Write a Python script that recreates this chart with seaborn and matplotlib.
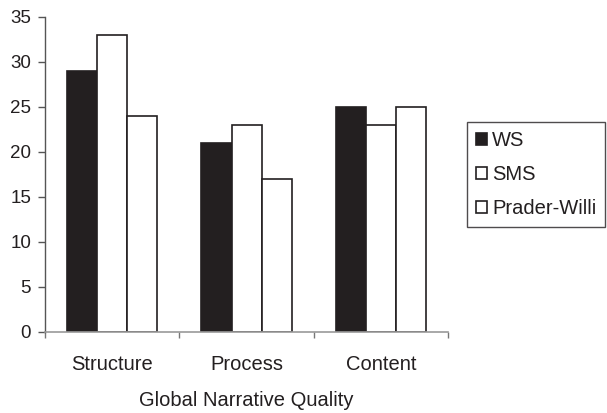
import matplotlib
matplotlib.use("Agg")
import matplotlib.pyplot as plt
import seaborn as sns
import pandas as pd
from matplotlib.ticker import FixedLocator

categories = ["Structure", "Process", "Content"]
groups = ["WS", "SMS", "Prader-Willi"]
ws_values = [29, 21, 25]
sms_values = [33, 23, 23]
pw_values = [24, 17, 25]
yticks = [0, 5, 10, 15, 20, 25, 30, 35]

rows = []
for g, vals in zip(groups, [ws_values, sms_values, pw_values]):
    for c, v in zip(categories, vals):
        rows.append({"category": c, "group": g, "value": v})
df = pd.DataFrame(rows)

sns.set_style("white")
plt.rcParams['font.family'] = ['Liberation Sans', 'DejaVu Sans']

FS = 14.5
FSY = 13.5
fig = plt.figure(figsize=(6.07, 4.13), dpi=100)
ax = fig.add_axes([0.0741, 0.197, 0.664, 0.762])

palette = {"WS": "#231f20", "SMS": "white", "Prader-Willi": "white"}
sns.barplot(data=df, x="category", y="value", hue="group", order=categories,
            hue_order=groups, palette=palette, width=0.67, edgecolor="#231f20",
            linewidth=1.2, saturation=1, ax=ax, legend=True)

ax.set_xlim(-0.5, 2.5)
ax.set_ylim(0, 35)
ax.set_yticks(yticks)
ax.set_yticklabels([str(t) for t in yticks], fontsize=FSY)
ax.tick_params(axis="y", direction="out", length=5, width=1, color="#555555",
               left=True, pad=5, labelcolor="#231f20")
ax.tick_params(axis="x", which="major", length=0, pad=17, labelsize=FS,
               labelcolor="#231f20")
ax.xaxis.set_minor_locator(FixedLocator([-0.5, 0.5, 1.5, 2.5]))
ax.tick_params(axis="x", which="minor", bottom=True, direction="out", length=4,
               width=1, color="#777777")
ax.set_xlabel("Global Narrative Quality", fontsize=FS, labelpad=12,
              color="#231f20")
ax.set_ylabel("")

for s in ["top", "right"]:
    ax.spines[s].set_visible(False)
ax.spines["left"].set_color("#555555")
ax.spines["left"].set_linewidth(1)
ax.spines["bottom"].set_color("#999999")
ax.spines["bottom"].set_linewidth(1.2)

ax.legend_.remove()
handles, labels = ax.get_legend_handles_labels()
leg = fig.legend(handles, labels, loc="upper left",
                 bbox_to_anchor=(467 / 607, 1 - 122 / 413),
                 fontsize=FS, frameon=True, fancybox=False,
                 edgecolor="#231f20", handlelength=0.55, handleheight=0.55,
                 handletextpad=0.25, labelspacing=0.75, borderpad=0.45,
                 borderaxespad=0)
leg.get_frame().set_linewidth(1)
for t in leg.get_texts():
    t.set_color("#231f20")

fig.savefig("out.png", dpi=100)
